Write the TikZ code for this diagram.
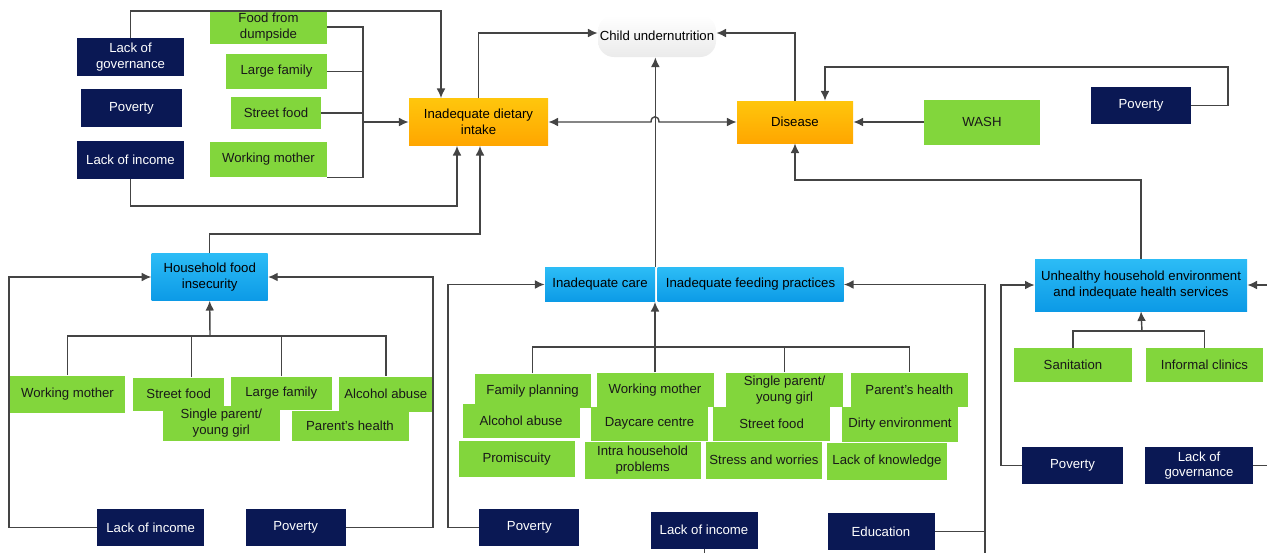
\documentclass[tikz,border=0pt]{standalone}
\usepackage{fontspec}
\setmainfont{Liberation Sans}
\usetikzlibrary{arrows.meta}

\definecolor{navybox}{RGB}{10,24,84}
\definecolor{limebox}{RGB}{130,214,60}
\definecolor{ambertop}{RGB}{255,198,12}
\definecolor{amberbot}{RGB}{255,166,0}
\definecolor{skytop}{RGB}{44,188,246}
\definecolor{skybot}{RGB}{12,154,230}
\definecolor{wire}{RGB}{68,68,68}

\begin{document}
\begin{tikzpicture}[
    x=0.02cm, y=-0.02cm,
    base/.style={rectangle, inner sep=1pt, align=center,
        font=\fontsize{7.5}{9}\selectfont},
    wh/.style 2 args={minimum width=#1*0.02cm, minimum height=#2*0.02cm},
    driver/.style={base, fill=navybox, text=white},
    factor/.style={base, fill=limebox, text=black!90},
    effect/.style={base, top color=ambertop, bottom color=amberbot},
    group/.style={base, top color=skytop, bottom color=skybot},
    cloud/.style={base, rounded corners=9pt, top color=white,
        bottom color=black!8},
    link/.style={draw=wire, line width=0.8pt},
    arr/.style={link, -{Latex[length=5.5pt,width=5pt]}},
    dbl/.style={link, {Latex[length=5.5pt,width=5pt]}-{Latex[length=5.5pt,width=5pt]}}
]
\useasboundingbox (0,0) rectangle (1267,552);
\clip (0,0) rectangle (1267,552);

% top left
\node (gov1) [driver, wh={107}{38}] at (130.5,57) {Lack of\\governance};
\node (pov1) [driver, wh={101}{38}] at (131.5,108) {Poverty};
\node (inc1) [driver, wh={107}{38}] at (130.5,160) {Lack of income};
\node (dump) [factor, wh={117}{34}] at (268.5,27) {Food from\\dumpside};
\node (fam1) [factor, wh={101}{35}] at (276.5,71.5) {Large family};
\node (str1) [factor, wh={90}{32}] at (276,113) {Street food};
\node (wrk1) [factor, wh={117}{35}] at (268.5,159.5) {Working mother};

% centre
\node (idi) [effect, wh={139}{47}] at (478.5,122) {Inadequate dietary\\intake};
\node (cu) [cloud, wh={118}{42}] at (657,36) {Child undernutrition};
\node (dis) [effect, wh={116}{42}] at (795,122) {Disease};
\node (wash) [factor, wh={116}{45}] at (982,122) {WASH};
\node (pov3) [driver, wh={100}{37}] at (1141,105.5) {Poverty};

% household food insecurity
\node (hfi) [group, wh={116}{47}] at (209.7,277) {Household food\\insecurity};
\node (wrk2) [factor, wh={115}{37}] at (67.5,394) {Working mother};
\node (str2) [factor, wh={91}{33}] at (178.7,394) {Street food};
\node (fam2) [factor, wh={101}{33}] at (281.3,393.3) {Large family};
\node (alc2) [factor, wh={94}{35}] at (385.8,394) {Alcohol abuse};
\node (sgl2) [factor, wh={117}{35}] at (221.3,423) {Single parent/\\young girl};
\node (hlt2) [factor, wh={117}{30}] at (350,426) {Parent's health};
\node (inc2) [driver, wh={107}{37}] at (150.7,527.7) {Lack of income};
\node (pov2) [driver, wh={100}{37}] at (295.7,527.7) {Poverty};

% care and feeding
\node (care) [group, wh={110}{34}] at (600,284.5) {Inadequate care};
\node (feed) [group, wh={186}{34}] at (750.5,284.5) {Inadequate feeding practices};
\node (fp3) [factor, wh={116}{34}] at (532.6,390.7) {Family planning};
\node (wrk3) [factor, wh={117}{34}] at (655,389.7) {Working mother};
\node (sgl3) [factor, wh={117}{34}] at (784.6,389.7) {Single parent/\\young girl};
\node (hlt3) [factor, wh={117}{34}] at (909.3,389.7) {Parent's health};
\node (alc3) [factor, wh={117}{34}] at (521,421) {Alcohol abuse};
\node (day3) [factor, wh={117}{34}] at (649.5,423.7) {Daycare centre};
\node (str3) [factor, wh={117}{34}] at (771.6,423.7) {Street food};
\node (dirt3) [factor, wh={116}{35}] at (900,424) {Dirty environment};
\node (pro3) [factor, wh={116}{36}] at (516.6,458.8) {Promiscuity};
\node (intra3) [factor, wh={116}{37}] at (642.6,460) {Intra household\\problems};
\node (strs3) [factor, wh={116}{37}] at (764,460) {Stress and worries};
\node (know3) [factor, wh={120}{37}] at (887,461) {Lack of knowledge};
\node (pov5) [driver, wh={100}{37}] at (529.3,527.7) {Poverty};
\node (inc3) [driver, wh={107}{37}] at (704,530) {Lack of income};
\node (edu) [driver, wh={107}{37}] at (881,531.7) {Education};

% environment and health services
\node (env) [group, wh={212}{52}] at (1141,285) {Unhealthy household environment\\and indequate health services};
\node (san) [factor, wh={118}{34}] at (1073,365) {Sanitation};
\node (clin) [factor, wh={117}{34}] at (1204.5,365) {Informal clinics};
\node (pov4) [driver, wh={101}{37}] at (1072.5,465.5) {Poverty};
\node (gov2) [driver, wh={108}{37}] at (1199,465.5) {Lack of\\governance};

% bends and rails
\coordinate (top loop) at (441,11);
\coordinate (low loop) at (457,206);
\coordinate (bus) at (363,122);
\coordinate (hfi bend) at (480,234);
\coordinate (hfi tree) at (210,336);
\coordinate (rail a) at (9,277);
\coordinate (rail b) at (433,277);
\coordinate (care tree) at (655,347);
\coordinate (care rail) at (448,284.5);
\coordinate (feed foot) at (985,570);
\coordinate (dis top) at (825,67);
\coordinate (pov rail) at (1228,67);
\coordinate (dis bend) at (795,180);
\coordinate (env tree) at (1142,331);
\coordinate (env rail) at (1001,285);
\coordinate (env rail r) at (1290,285);

% into inadequate dietary intake
\draw[arr] (gov1.north) |- (top loop) -- (top loop |- idi.north);
\draw[arr] (inc1.south) |- (low loop) -- (low loop |- idi.south);
\draw[link] (dump.east) -| (bus);
\draw[link] (fam1.east) -| (bus);
\draw[link] (str1.east) -| (bus);
\draw[link] (wrk1.south east) -| (bus);
\draw[arr] (bus) |- (idi.west);
\draw[arr] (hfi.north) |- (hfi bend) -- (hfi bend |- idi.south);

% to child undernutrition
\draw[arr] (idi.north) |- ([yshift=0.06cm]cu.west);
\draw[arr] (dis.north) |- ([yshift=0.06cm]cu.east);
\draw[arr] (care.north east) -- (care.north east |- cu.south);
\draw[dbl] (idi.east) -- (651,122) .. controls (651,115) and (659,115) .. (659,122) -- (dis.west);

% into disease
\draw[arr] (wash.west) -- (dis.east);
\draw[arr] (pov3.east) -| (pov rail) -- (dis top) -- (dis top |- dis.north);
\draw[arr] (env.north) |- (dis bend) -- (dis.south);

% household food insecurity
\draw[link] (wrk2.north) |- (alc2.north |- hfi tree) -- (alc2.north);
\draw[link] ([xshift=0.26cm]str2.north) -- ([xshift=0.26cm]str2.north |- hfi tree);
\draw[link] (fam2.north) -- (fam2.north |- hfi tree);
\draw[arr] (hfi tree) -- (hfi.south);
\draw[arr] (inc2.west) -| (rail a) |- (hfi.west);
\draw[arr] (pov2.east) -| (rail b) |- (hfi.east);

% care and feeding
\draw[link] (fp3.north) |- (hlt3.north |- care tree) -- (hlt3.north);
\draw[link] (wrk3.north) -- (care tree);
\draw[link] (sgl3.north) -- (sgl3.north |- care tree);
\draw[arr] (care tree) -- (care tree |- care.south);
\draw[arr] (pov5.west) -| (care rail) |- (care.west);
\draw[arr] (feed foot) |- (feed.east);
\draw[link] (edu.east) -- (edu.east -| feed foot);
\draw[link, line width=0.5pt] (inc3.south) -- ++(0,12);

% environment and health services
\draw[link] (san.north) |- (env tree) -| (clin.north);
\draw[arr] (env tree) -- (env.south);
\draw[arr] (pov4.west) -| (env rail) |- (env.west);
\draw[arr] (gov2.east) -| (env rail r) |- (env.east);
\end{tikzpicture}
\end{document}
